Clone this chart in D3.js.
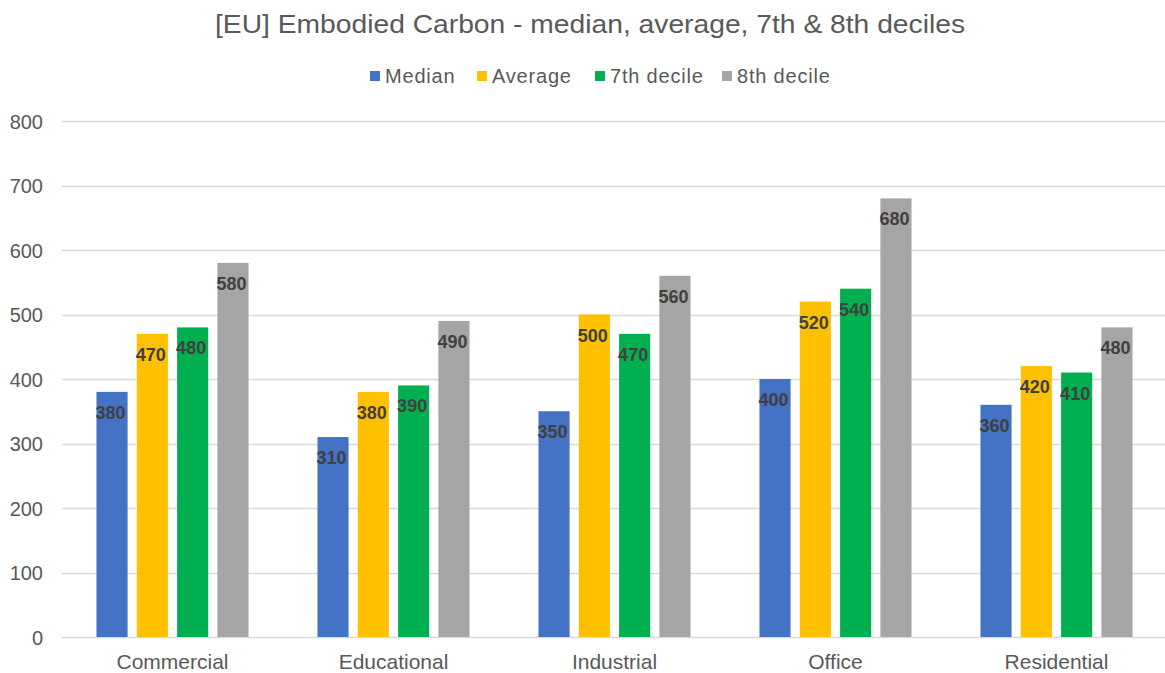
<!DOCTYPE html>
<html>
<head>
<meta charset="utf-8">
<script src="https://cdn.jsdelivr.net/npm/d3@7"></script>
<style>
  html, body { margin: 0; padding: 0; background: #fff; }
  svg { display: block; font-family: "Liberation Sans", Arial, sans-serif; }
</style>
</head>
<body>
<svg id="chart" width="1165" height="673"></svg>
<script>
// Building categories and series
const categories = ["Commercial", "Educational", "Industrial", "Office", "Residential"];
const seriesNames = ["Median", "Average", "7th decile", "8th decile"];
const median = [380, 310, 350, 400, 360];
const average = [470, 380, 500, 520, 420];
const decile7 = [480, 390, 470, 540, 410];
const decile8 = [580, 490, 560, 680, 480];
const yTicks = [0, 100, 200, 300, 400, 500, 600, 700, 800];
const colors = ["#4472C4", "#FFC000", "#00B050", "#A5A5A5"];

const seriesValues = [median, average, decile7, decile8];
const rows = categories.map((c, i) => ({
  category: c,
  values: seriesNames.map((s, k) => ({ series: s, value: seriesValues[k][i], color: colors[k] }))
}));

const svg = d3.select("#chart");
const W = 1165, H = 673;
const plot = { left: 62, right: 1167, top: 121, bottom: 637 };

const x0 = d3.scaleBand().domain(categories).range([plot.left, plot.right])
  .paddingInner(0.312).paddingOuter(0.156);
const x1 = d3.scaleBand().domain(seriesNames).range([0, x0.bandwidth()])
  .paddingInner(0.228).paddingOuter(0);
const y = d3.scaleLinear().domain([0, 800]).range([plot.bottom, plot.top]);

// Title
svg.append("text")
  .attr("x", 590).attr("y", 24)
  .attr("text-anchor", "middle").attr("dominant-baseline", "central")
  .attr("font-size", 26).attr("fill", "#595959")
  .attr("textLength", 750).attr("lengthAdjust", "spacingAndGlyphs")
  .text("[EU] Embodied Carbon - median, average, 7th & 8th deciles");

// Gridlines
svg.append("g").selectAll("line").data(yTicks).join("line")
  .attr("x1", plot.left).attr("x2", W)
  .attr("y1", d => Math.round(y(d)) + 0.5).attr("y2", d => Math.round(y(d)) + 0.5)
  .attr("stroke", "#D9D9D9").attr("stroke-width", 1.3);

// Y axis labels
const yAxis = svg.append("g").attr("transform", `translate(43,0)`)
  .call(d3.axisLeft(y).tickValues(yTicks).tickSize(0).tickPadding(0));
yAxis.select(".domain").remove();
yAxis.selectAll("text")
  .attr("font-size", 20).attr("fill", "#595959")
  .attr("font-family", "Liberation Sans, Arial, sans-serif")
  .attr("dy", "0.35em");

// Bars
const groups = svg.append("g").selectAll("g").data(rows).join("g")
  .attr("transform", d => `translate(${x0(d.category)},0)`);

groups.selectAll("rect").data(d => d.values).join("rect")
  .attr("x", d => x1(d.series))
  .attr("y", d => y(d.value))
  .attr("width", x1.bandwidth())
  .attr("height", d => y(0) - y(d.value))
  .attr("fill", d => d.color);

// Value labels inside the top of each bar
groups.selectAll("text").data(d => d.values).join("text")
  .attr("x", d => x1(d.series) + x1.bandwidth() / 2 - 1.5)
  .attr("y", d => y(d.value) + 21)
  .attr("text-anchor", "middle").attr("dominant-baseline", "central")
  .attr("font-size", 18).attr("font-weight", "bold").attr("fill", "#404040")
  .text(d => d.value);

// Category axis
const xAxis = svg.append("g").attr("transform", `translate(0,${plot.bottom})`)
  .call(d3.axisBottom(x0).tickSize(0).tickPadding(0));
xAxis.select(".domain").remove();
xAxis.selectAll("text")
  .attr("font-size", 21).attr("fill", "#595959")
  .attr("font-family", "Liberation Sans, Arial, sans-serif")
  .attr("y", 25).attr("dy", "0.35em");

// Legend
const legendX = [370, 477, 595, 722];
const legend = svg.append("g").selectAll("g").data(seriesNames).join("g")
  .attr("transform", (d, i) => `translate(${legendX[i]},76)`);
legend.append("rect")
  .attr("x", 0).attr("y", -5).attr("width", 10).attr("height", 10)
  .attr("fill", (d, i) => colors[i]);
legend.append("text")
  .attr("x", 15).attr("y", 0).attr("dominant-baseline", "central")
  .attr("font-size", 20).attr("letter-spacing", 0.8).attr("fill", "#595959")
  .text(d => d);
</script>
</body>
</html>
